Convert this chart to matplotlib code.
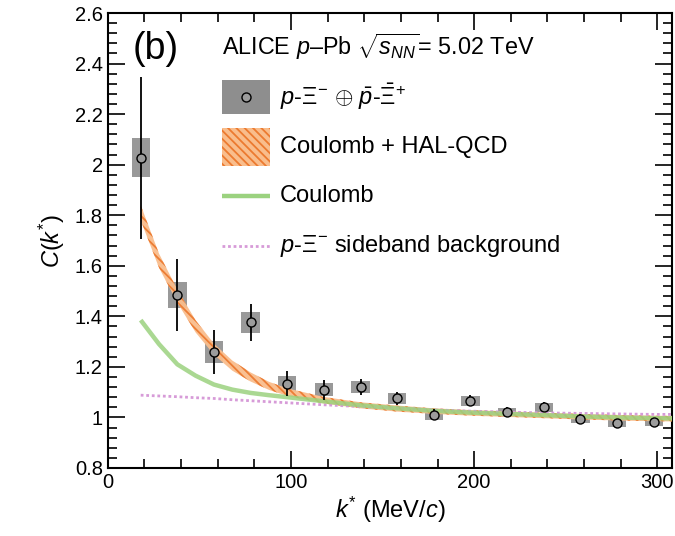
import numpy as np
import matplotlib
matplotlib.use("Agg")
import matplotlib.pyplot as plt
from matplotlib.ticker import MultipleLocator, FormatStrFormatter
from matplotlib.patches import Rectangle
from matplotlib.lines import Line2D

plt.rcParams['font.family'] = ['Liberation Sans', 'DejaVu Sans']
plt.rcParams['mathtext.fontset'] = 'custom'
plt.rcParams['mathtext.rm'] = 'Liberation Sans'
plt.rcParams['mathtext.it'] = 'Liberation Sans:italic'
plt.rcParams['mathtext.bf'] = 'Liberation Sans:bold'
plt.rcParams['hatch.linewidth'] = 1.3

kstar = [18, 38, 58, 78, 98, 118, 138, 158, 178, 198, 218, 238, 258, 278, 298]
corr = [2.027, 1.484, 1.258, 1.376, 1.133, 1.110, 1.120, 1.076, 1.010,
        1.066, 1.020, 1.040, 0.994, 0.977, 0.981]
stat_err = [0.32, 0.142, 0.087, 0.072, 0.05, 0.04, 0.031, 0.026, 0.022,
            0.022, 0.02, 0.02, 0.018, 0.018, 0.018]
sys_err = [0.077, 0.052, 0.043, 0.04, 0.032, 0.027, 0.025, 0.022, 0.02,
           0.02, 0.018, 0.018, 0.016, 0.016, 0.016]

# Coulomb + HAL-QCD band
k_model = [18, 28, 38, 48, 58, 68, 78, 88, 98, 118, 138, 158, 178, 198,
           218, 238, 258, 278, 298, 310]
halqcd = [1.81, 1.62, 1.48, 1.36, 1.27, 1.205, 1.16, 1.125, 1.10, 1.068,
          1.048, 1.035, 1.025, 1.018, 1.013, 1.008, 1.003, 0.999, 0.996, 0.995]
halqcd_width = [0.03, 0.028, 0.026, 0.024, 0.022, 0.02, 0.018, 0.016, 0.015,
                0.013, 0.012, 0.012, 0.011, 0.011, 0.011, 0.011, 0.011, 0.011,
                0.011, 0.011]
# Coulomb only
coulomb = [1.385, 1.29, 1.21, 1.165, 1.13, 1.11, 1.097, 1.088, 1.080, 1.064,
           1.048, 1.036, 1.026, 1.019, 1.014, 1.009, 1.004, 1.000, 0.997, 0.996]
# sideband background
sideband = [1.088, 1.085, 1.082, 1.078, 1.075, 1.070, 1.066, 1.062, 1.058,
            1.050, 1.043, 1.037, 1.030, 1.025, 1.021, 1.018, 1.016, 1.014,
            1.012, 1.012]

band_face = '#f9bd8c'
band_hatch = '#ec7a30'
green = '#9bd27f'
purple = '#d79bd8'
box_grey = '#8e8e8e'

fig = plt.figure(figsize=(6.75, 5.36), dpi=100)
ax = fig.add_axes([0.1596, 0.1269, 0.836, 0.8488])

ax.bar(kstar, 2 * np.array(sys_err), bottom=np.array(corr) - np.array(sys_err),
       width=10, color=box_grey, alpha=0.9, lw=0, zorder=2)

lo = np.array(halqcd) - np.array(halqcd_width)
hi = np.array(halqcd) + np.array(halqcd_width)
ax.fill_between(k_model, lo, hi, facecolor=band_face, edgecolor=band_hatch,
                hatch='\\\\\\\\', lw=0, zorder=3, alpha=0.95)
ax.plot(k_model, sideband, color=purple, lw=2, ls=(0, (1, 1)), zorder=3)
ax.plot(k_model, coulomb, color=green, lw=3.2, alpha=0.85, zorder=3,
        solid_capstyle='butt')

ax.errorbar(kstar, corr, yerr=stat_err, fmt='o', ms=6.5, mfc='#9c9c9c',
            mec='black', mew=1.0, ecolor='black', elinewidth=1.3, capsize=0,
            zorder=5)

ax.set_xlim(0, 308)
ax.set_ylim(0.8, 2.6)
ax.xaxis.set_major_locator(MultipleLocator(100))
ax.xaxis.set_minor_locator(MultipleLocator(20))
ax.yaxis.set_major_locator(MultipleLocator(0.2))
ax.yaxis.set_minor_locator(MultipleLocator(0.04))
ax.yaxis.set_major_formatter(FormatStrFormatter('%g'))
ax.tick_params(which='both', direction='in', top=True, right=True,
               labelsize=14.5, width=1.2)
ax.tick_params(which='major', length=12)
ax.tick_params(which='minor', length=6.5)
for s in ax.spines.values():
    s.set_linewidth(1.5)

ax.set_xlabel(r'$k^{*}$ (MeV/$c$)', fontsize=17, labelpad=2)
ax.set_ylabel(r'$C(k^{*})$', fontsize=17, labelpad=6)

# panel label, header and hand-made legend
ax.text(0.045, 0.921, '(b)', transform=ax.transAxes, fontsize=27,
        va='center', ha='left')
ax.text(0.2026, 0.925, r'ALICE $p$–Pb $\sqrt{s_{NN}}$= 5.02 TeV',
        transform=ax.transAxes, fontsize=16.8, va='center', ha='left')

x0, x1, xt = 0.2026, 0.2877, 0.3054
rows = [0.815, 0.705, 0.598, 0.488]
labels = [r'$p$-$\Xi^{-}$ $\oplus$ $\bar{p}$-$\bar{\Xi}^{+}$',
          'Coulomb + HAL-QCD', 'Coulomb',
          r'$p$-$\Xi^{-}$ sideband background']

ax.add_patch(Rectangle((x0, rows[0] - 0.038), x1 - x0, 0.076,
                       transform=ax.transAxes, color=box_grey, lw=0))
ax.add_line(Line2D([(x0 + x1) / 2], [rows[0]], transform=ax.transAxes,
                   marker='o', ms=6.5, mfc='#9c9c9c', mec='black', mew=1.0))
ax.add_patch(Rectangle((x0, rows[1] - 0.042), x1 - x0, 0.084,
                       transform=ax.transAxes, facecolor=band_face,
                       edgecolor=band_hatch, hatch='\\\\\\\\', lw=0))
ax.add_line(Line2D([x0, x1], [rows[2], rows[2]], transform=ax.transAxes,
                   color=green, lw=3.2, solid_capstyle='butt'))
ax.add_line(Line2D([x0, x1], [rows[3], rows[3]], transform=ax.transAxes,
                   color=purple, lw=2, ls=(0, (1, 1))))
for y, lab in zip(rows, labels):
    ax.text(xt, y, lab, transform=ax.transAxes, fontsize=17,
            va='center', ha='left')

fig.savefig('out.png', dpi=100)
